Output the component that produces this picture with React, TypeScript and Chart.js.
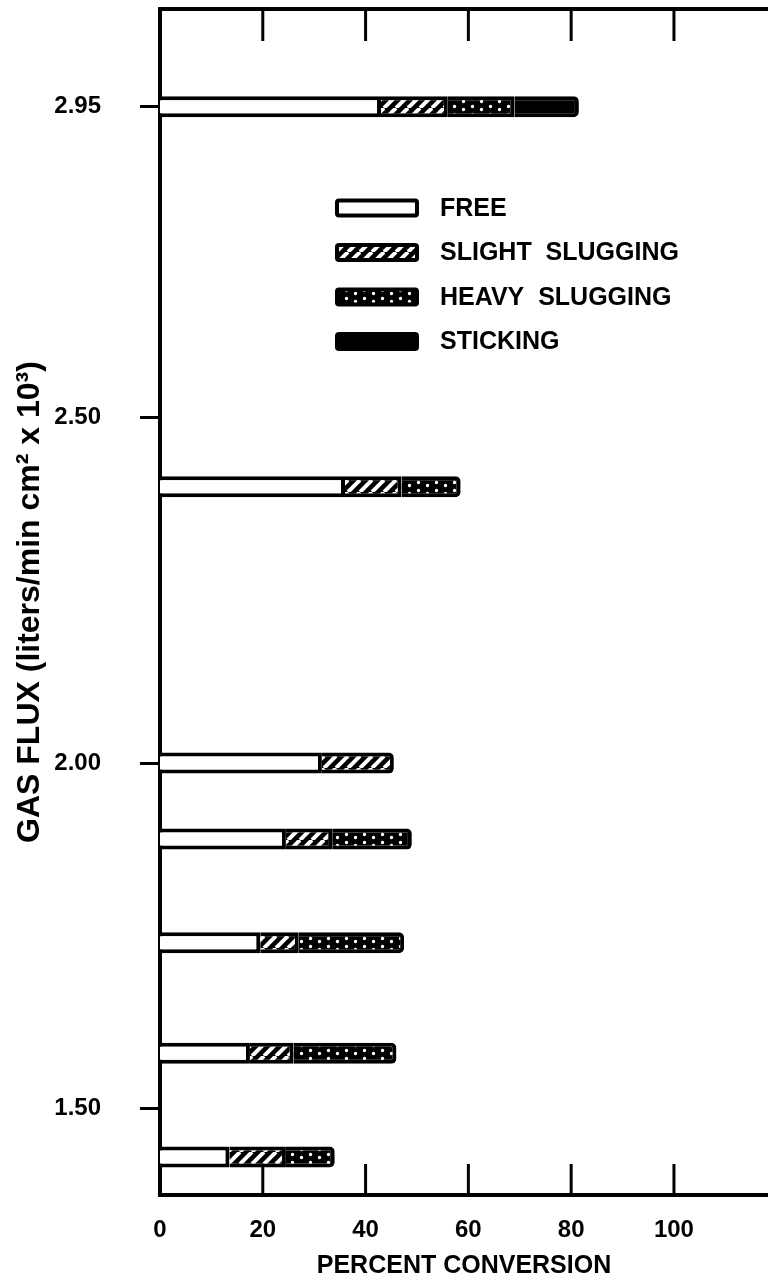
import React, { useEffect, useRef } from 'react';
import { Chart, registerables } from 'chart.js';

Chart.register(...registerables);

// ---- data ----
const fluxLevels = [2.95, 2.4, 2.0, 1.89, 1.74, 1.58, 1.43];
const freeValues = [43, 36, 31.5, 24.5, 19.5, 17.5, 13.5];
const slightValues = [13, 11, 14, 9, 7.5, 8.5, 11];
const heavyValues = [13, 11.5, 0, 15.5, 20.5, 20, 9.5];
const stickingValues = [12.5, 0, 0, 0, 0, 0, 0];
const seriesLabels = ['FREE', 'SLIGHT  SLUGGING', 'HEAVY  SLUGGING', 'STICKING'];
const yTickValues = [2.95, 2.5, 2.0, 1.5];
const xTickValues = [0, 20, 40, 60, 80, 100];
const xAxisTitle = 'PERCENT CONVERSION';
const yAxisTitle = 'GAS FLUX (liters/min cm² x 10³)';

const FONT = '"Liberation Sans", Arial, sans-serif';

function makeHatch(): CanvasPattern | string {
  const n = 12;
  const c = document.createElement('canvas');
  c.width = n;
  c.height = n;
  const g = c.getContext('2d');
  if (!g) return '#000';
  g.fillStyle = '#000';
  g.fillRect(0, 0, n, n);
  g.strokeStyle = '#fff';
  g.lineWidth = 4;
  g.beginPath();
  for (const off of [-n, 0, n]) {
    g.moveTo(off, n);
    g.lineTo(off + n, 0);
  }
  g.stroke();
  return g.createPattern(c, 'repeat') || '#000';
}

function makeDots(): CanvasPattern | string {
  const c = document.createElement('canvas');
  c.width = 18;
  c.height = 8;
  const g = c.getContext('2d');
  if (!g) return '#000';
  g.fillStyle = '#000';
  g.fillRect(0, 0, 18, 8);
  g.fillStyle = '#fff';
  g.beginPath();
  g.arc(4.5, 2.5, 1.7, 0, Math.PI * 2);
  g.closePath();
  g.moveTo(15.2, 5.5);
  g.arc(13.5, 5.5, 1.7, 0, Math.PI * 2);
  g.fill();
  return g.createPattern(c, 'repeat') || '#000';
}

function roundRect(ctx: CanvasRenderingContext2D, x: number, y: number, w: number, h: number, r: number) {
  ctx.beginPath();
  ctx.moveTo(x + r, y);
  ctx.lineTo(x + w - r, y);
  ctx.arcTo(x + w, y, x + w, y + r, r);
  ctx.lineTo(x + w, y + h - r);
  ctx.arcTo(x + w, y + h, x + w - r, y + h, r);
  ctx.lineTo(x + r, y + h);
  ctx.arcTo(x, y + h, x, y + h - r, r);
  ctx.lineTo(x, y + r);
  ctx.arcTo(x, y, x + r, y, r);
  ctx.closePath();
}

const framePlugin = {
  id: 'frameAndLegend',
  afterDraw(chart: any) {
    const { ctx, chartArea, scales } = chart;
    const xs = scales.x;
    ctx.save();
    ctx.strokeStyle = '#000';
    ctx.lineCap = 'butt';
    // top border
    ctx.lineWidth = 4;
    ctx.beginPath();
    ctx.moveTo(chartArea.left - 2, chartArea.top);
    ctx.lineTo(chartArea.right, chartArea.top);
    ctx.stroke();
    // inward ticks, top and bottom
    ctx.lineWidth = 3;
    xTickValues
      .filter((v) => v > 0)
      .forEach((v) => {
        const px = xs.getPixelForValue(v);
        ctx.beginPath();
        ctx.moveTo(px, chartArea.top);
        ctx.lineTo(px, chartArea.top + 32);
        ctx.stroke();
        ctx.beginPath();
        ctx.moveTo(px, chartArea.bottom);
        ctx.lineTo(px, chartArea.bottom - 31);
        ctx.stroke();
      });

    // legend
    const lx = 335;
    const ly = 208;
    const rowGap = 44.5;
    const sw = 84;
    const sh = 19;
    chart.data.datasets.forEach((ds: any, i: number) => {
      const cy = ly + i * rowGap;
      const top = cy - sh / 2;
      ctx.fillStyle = '#000';
      roundRect(ctx, lx, top, sw, sh, 4);
      ctx.fill();
      ctx.fillStyle = ds.backgroundColor;
      ctx.fillRect(lx + 4, top + 4, sw - 8, sh - 8);
      ctx.fillStyle = '#000';
      ctx.font = `bold 25px ${FONT}`;
      ctx.textAlign = 'left';
      ctx.textBaseline = 'middle';
      ctx.fillText(ds.label, lx + 105, cy + 1);
    });
    ctx.restore();
  },
};

export default function App() {
  const ref = useRef<HTMLCanvasElement>(null);

  useEffect(() => {
    const canvas = ref.current;
    if (!canvas) return;
    const hatch = makeHatch();
    const dots = makeDots();
    const toPoints = (vals: number[]) =>
      fluxLevels.map((y, i) => ({ x: vals[i], y })).filter((p) => p.x > 0);

    const common = {
      barThickness: 21,
      borderColor: '#000',
      borderWidth: 4,
      borderSkipped: 'start',
      borderRadius: 5,
      inflateAmount: 0,
    };

    const chart = new Chart(canvas, {
      type: 'bar',
      data: {
        datasets: [
          { label: seriesLabels[0], data: toPoints(freeValues), backgroundColor: '#fff', ...common },
          { label: seriesLabels[1], data: toPoints(slightValues), backgroundColor: hatch, ...common },
          { label: seriesLabels[2], data: toPoints(heavyValues), backgroundColor: dots, ...common },
          { label: seriesLabels[3], data: toPoints(stickingValues), backgroundColor: '#000', ...common },
        ] as any,
      },
      options: {
        indexAxis: 'y',
        responsive: false,
        maintainAspectRatio: false,
        devicePixelRatio: 1,
        animation: false,
        events: [],
        layout: { padding: { top: 9, right: 0, left: 0, bottom: 0 } },
        plugins: {
          legend: { display: false },
          tooltip: { enabled: false },
        },
        scales: {
          x: {
            type: 'linear',
            position: 'bottom',
            stacked: true,
            min: 0,
            max: 118.3,
            afterBuildTicks: (s: any) => {
              s.ticks = xTickValues.map((v) => ({ value: v }));
            },
            afterFit: (s: any) => {
              s.height = 87;
              s.paddingLeft = 0;
              s.paddingRight = 0;
            },
            grid: { display: false, drawTicks: false },
            border: { display: true, color: '#000', width: 4 },
            ticks: {
              padding: 21,
              color: '#000',
              maxRotation: 0,
              font: { family: FONT, weight: 'bold', size: 24 },
              callback: (v: any) => String(v),
            },
            title: {
              display: true,
              text: xAxisTitle,
              color: '#000',
              font: { family: FONT, weight: 'bold', size: 25 },
              padding: { top: 0, bottom: 1 },
            },
          },
          y: {
            type: 'linear',
            position: 'left',
            stacked: true,
            offset: false,
            min: 1.375,
            max: 3.0913,
            afterBuildTicks: (s: any) => {
              s.ticks = yTickValues.map((v) => ({ value: v }));
            },
            afterFit: (s: any) => {
              s.width = 160;
              s.paddingTop = 0;
              s.paddingBottom = 0;
            },
            grid: {
              display: true,
              offset: false,
              drawOnChartArea: false,
              drawTicks: true,
              tickLength: 20,
              color: '#000',
              lineWidth: 3,
            },
            border: { display: true, color: '#000', width: 4 },
            ticks: {
              padding: 39,
              color: '#000',
              font: { family: FONT, weight: 'bold', size: 24 },
              callback: (v: any) => Number(v).toFixed(2),
            },
            title: {
              display: true,
              text: yAxisTitle,
              color: '#000',
              font: { family: FONT, weight: 'bold', size: 32 },
              padding: { top: 11, bottom: 0 },
            },
          },
        },
      } as any,
      plugins: [framePlugin as any],
    });

    return () => chart.destroy();
  }, []);

  return (
    <div style={{ position: 'absolute', left: 0, top: 0, width: 768, height: 1282, background: '#fff' }}>
      <canvas ref={ref} width={768} height={1282} style={{ display: 'block' }} />
    </div>
  );
}
